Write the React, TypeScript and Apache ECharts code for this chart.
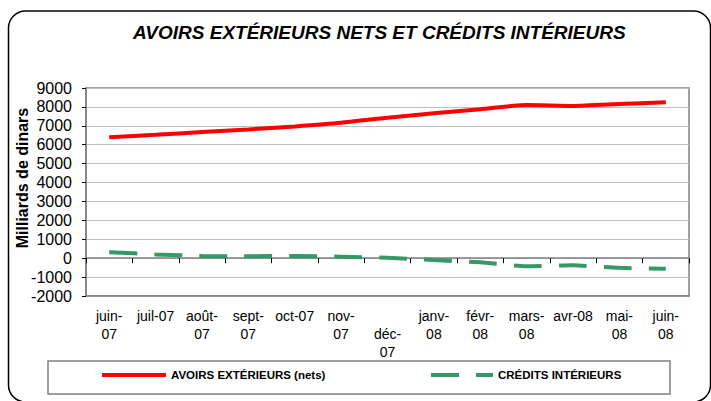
import React, { useEffect, useRef } from "react";
import * as echarts from "echarts";

const categories = ["juin-07", "juil-07", "août-07", "sept-07", "oct-07", "nov-07", "déc-07", "janv-08", "févr-08", "mars-08", "avr-08", "mai-08", "juin-08"];
const tickLabels = ["juin-\n07", "juil-07", "août-\n07", "sept-\n07", "oct-07", "nov-\n07", "\ndéc-\n07", "janv-\n08", "févr-\n08", "mars-\n08", "avr-08", "mai-\n08", "juin-\n08"];
const avoirsExterieurs = [6400, 6530, 6670, 6810, 6970, 7160, 7430, 7660, 7880, 8100, 8050, 8150, 8250];
const creditsInterieurs = [320, 200, 120, 100, 120, 80, 20, -100, -220, -430, -380, -510, -560];

const seriesNames = ["AVOIRS EXTÉRIEURS (nets)", "CRÉDITS INTÉRIEURS"];
const titleText = "AVOIRS EXTÉRIEURS NETS ET CRÉDITS INTÉRIEURS";
const yAxisTitle = "Milliards de dinars";

const FONT = "'Liberation Sans', Arial, sans-serif";

export default function App() {
  const ref = useRef<HTMLDivElement>(null);
  useEffect(() => {
    if (!ref.current) return;
    const chart = echarts.init(ref.current, null, { renderer: "svg" });
    const legendBase = {
      top: 369,
      padding: 0,
      itemHeight: 14,
      lineStyle: { width: 4 },
      itemStyle: { opacity: 0 },
      textStyle: { fontFamily: FONT, fontSize: 11.5, fontWeight: "bold", color: "#000" },
    };
    const option: any = {
      animation: false,
      backgroundColor: "#ffffff",
      textStyle: { fontFamily: FONT },
      title: {
        text: titleText,
        left: 133,
        top: 23,
        padding: 0,
        textStyle: { fontFamily: FONT, fontSize: 19, fontWeight: "bold", fontStyle: "italic", color: "#000" },
      },
      legend: [
        { ...legendBase, data: [seriesNames[0]], left: 100, itemWidth: 64 },
        { ...legendBase, data: [seriesNames[1]], left: 429, itemWidth: 62 },
      ],
      grid: {
        left: 86,
        top: 88,
        width: 603,
        height: 208,
        show: true,
        borderColor: "#808080",
        borderWidth: 1.5,
        containLabel: false,
      },
      xAxis: [
        {
          type: "category",
          data: categories,
          position: "bottom",
          boundaryGap: true,
          axisLine: { show: true, onZero: false, lineStyle: { color: "#808080", width: 1.5 } },
          axisTick: { show: false },
          axisLabel: {
            interval: 0,
            margin: 11,
            fontFamily: FONT,
            fontSize: 14,
            lineHeight: 18,
            color: "#000",
            formatter: (_v: string, i: number) => tickLabels[i],
          },
          splitLine: { show: false },
        },
        {
          type: "category",
          data: categories,
          position: "top",
          boundaryGap: true,
          axisLine: { show: true, onZero: true, lineStyle: { color: "#808080", width: 1.5 } },
          axisTick: { show: true, inside: true, length: 5, interval: 0, lineStyle: { color: "#000", width: 1 } },
          axisLabel: { show: false },
          splitLine: { show: false },
        },
      ],
      yAxis: {
        type: "value",
        min: -2000,
        max: 9000,
        interval: 1000,
        axisLine: { show: true, lineStyle: { color: "#808080", width: 1.5 } },
        axisTick: { show: true, length: 4, lineStyle: { color: "#000" } },
        axisLabel: {
          margin: 14,
          fontFamily: FONT,
          fontSize: 16,
          color: "#000",
          formatter: (v: number) => String(v),
        },
        splitLine: { show: true, lineStyle: { color: "#c0c0c0", width: 1 } },
      },
      series: [
        {
          name: seriesNames[0],
          type: "line",
          data: avoirsExterieurs,
          xAxisIndex: 0,
          symbol: "none",
          smooth: 0.2,
          lineStyle: { color: "#ff0000", width: 4 },
          itemStyle: { color: "#ff0000" },
        },
        {
          name: seriesNames[1],
          type: "line",
          data: creditsInterieurs,
          xAxisIndex: 0,
          symbol: "none",
          smooth: 0.2,
          lineStyle: { color: "#339966", width: 4, type: [28, 17], cap: "butt" },
          itemStyle: { color: "#339966" },
        },
      ],
      graphic: [
        {
          type: "rect",
          shape: { x: 8.5, y: 11, width: 702, height: 391, r: 17 },
          style: { fill: "none", stroke: "#000", lineWidth: 1.5 },
          silent: true,
        },
        {
          type: "rect",
          shape: { x: 48, y: 361, width: 622, height: 33 },
          style: { fill: "none", stroke: "#808080", lineWidth: 1.5 },
          silent: true,
        },
        {
          type: "text",
          x: 22,
          y: 178,
          rotation: Math.PI / 2,
          style: {
            text: yAxisTitle,
            align: "center",
            verticalAlign: "middle",
            font: `bold 16px ${FONT}`,
            fill: "#000",
          },
        },
      ],
    };
    chart.setOption(option);
    return () => chart.dispose();
  }, []);
  return (
    <div
      ref={ref}
      style={{ position: "fixed", left: 0, top: 0, width: 711, height: 401, background: "#fff" }}
    />
  );
}
